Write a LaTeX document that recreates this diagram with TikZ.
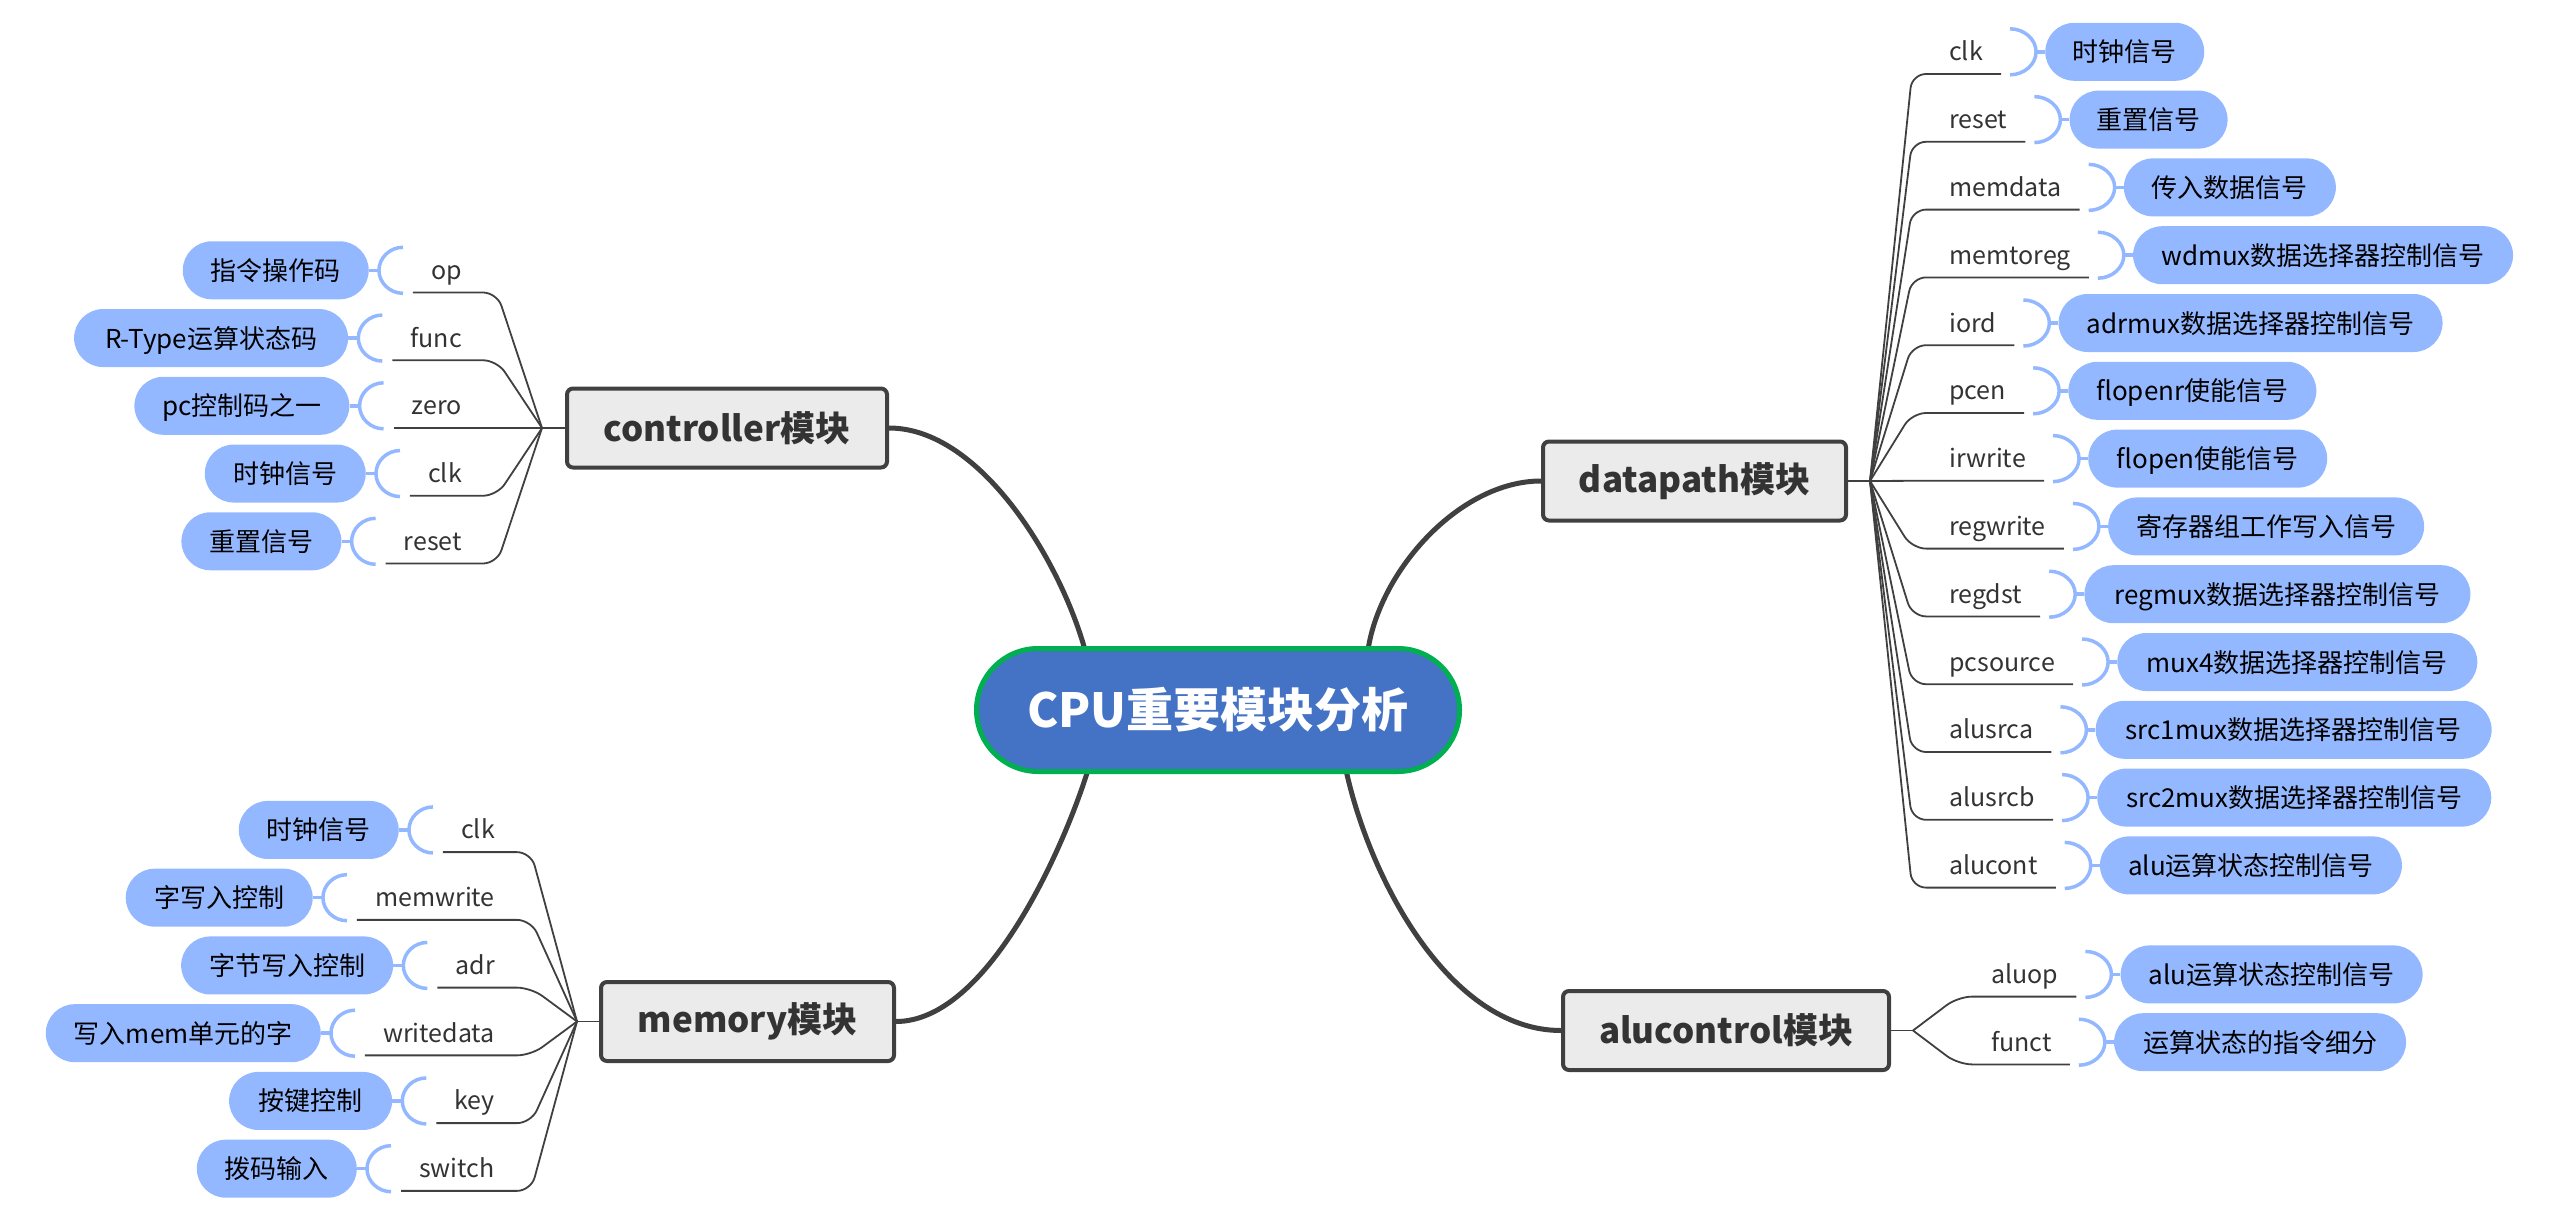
\documentclass[tikz,border=0pt]{standalone}
\usepackage{fontspec}
\setmainfont{Noto Sans CJK SC}
\usetikzlibrary{calc,backgrounds}
\definecolor{pillblue}{RGB}{148,184,255}
\definecolor{darkline}{RGB}{64,64,64}
\definecolor{boxfill}{RGB}{235,235,235}
\definecolor{cpublue}{RGB}{68,114,196}
\definecolor{cpugreen}{RGB}{0,176,80}
\definecolor{txt}{RGB}{51,51,51}
\tikzset{
  lab/.style={font=\fontsize{25}{30}\selectfont, text=txt, inner xsep=18pt, inner ysep=0pt, text height=31pt, text depth=13pt},
  pill/.style={fill=pillblue, rounded corners=29pt, minimum height=58pt, inner xsep=10pt, inner ysep=0pt, text height=23pt, text depth=3pt, font=\fontsize{26}{30}\selectfont, text=black},
  modbox/.style={draw=darkline, line width=4pt, fill=boxfill, rounded corners=6pt, minimum height=79pt, inner sep=0pt, font=\bfseries\fontsize{35}{40}\selectfont, text=txt},
  cpubox/.style={draw=cpugreen, line width=5pt, fill=cpublue, rounded corners=61.5pt, minimum width=483pt, minimum height=123pt, inner sep=0pt, font=\bfseries\fontsize{47}{56}\selectfont, text=white},
  mainline/.style={draw=darkline, line width=5pt},
  subline/.style={draw=darkline, line width=1.8pt, rounded corners=14pt},
  brk/.style={draw=pillblue, line width=3.5pt},
}
\begin{document}
\begin{tikzpicture}[x=1pt,y=-1pt]
\useasboundingbox (0,0) rectangle (2566,1220);
% central and module nodes
\node[cpubox] (cpu) at (1218,710) {CPU重要模块分析};
\node[modbox, minimum width=320pt] (ctrl) at (727,428) {controller模块};
\node[modbox, minimum width=303pt] (dp) at (1694.5,481) {datapath模块};
\node[modbox, minimum width=293pt] (mem) at (747.5,1021.5) {memory模块};
\node[modbox, minimum width=326pt] (alu) at (1726,1030.5) {alucontrol模块};
% junctions
\coordinate (cj) at (542,428);
\coordinate (dj) at (1870,481);
\coordinate (mj) at (577,1021.5);
\coordinate (aj) at (1913,1030.5);
% main connectors
\begin{scope}[on background layer]
\draw[mainline] (ctrl.east) .. controls +(91,0) and +(-25,-90) .. ($(cpu.center)+(-133,-60)$);
\draw[mainline] (mem.east) .. controls +(91,0) and +(-25,80) .. ($(cpu.center)+(-130,60)$);
\draw[mainline] ($(cpu.center)+(150,-60)$) .. controls +(12,-80) and +(-81,0) .. (dp.west);
\draw[mainline] ($(cpu.center)+(128,60)$) .. controls +(24,110) and +(-111,0) .. (alu.west);
\end{scope}
\draw[subline] (ctrl.west) -- (cj);
\draw[subline] (dp.east) -- (dj);
\draw[subline] (mem.west) -- (mj);
\draw[subline] (alu.east) -- (aj);
% controller children
\foreach \i/\lbl/\ptxt/\pw in {0/op/指令操作码/186, 1/func/R-Type运算状态码/274, 2/zero/pc控制码之一/215, 3/clk/时钟信号/161, 4/reset/重置信号/160}{
  \pgfmathsetmacro\yu{428+67.75*(\i-2)}
  \node[lab, anchor=south east] (cl\i) at (480,\yu) {\lbl};
  \node[pill, anchor=east, minimum width=\pw pt] (cp\i) at ($(cl\i.west)+(-44,0)$) {\ptxt};
  \draw[subline] (cj) -- ($(cl\i.south east)+(17,0)$) -- (cl\i.south west);
  \draw[brk] (cp\i.east) -- ++(10,0);
  \draw[brk] ($(cp\i.east)+(34,-23)$) .. controls +(-13,0) and +(0,-12.6) .. ($(cp\i.east)+(10,0)$) .. controls +(0,12.6) and +(-13,0) .. ($(cp\i.east)+(34,23)$);
}
% memory children
\foreach \i/\lbl/\ptxt/\pw in {0/clk/时钟信号/160, 1/memwrite/字写入控制/187, 2/adr/字节写入控制/212, 3/writedata/写入mem单元的字/275, 4/key/按键控制/163, 5/switch/拨码输入/160}{
  \pgfmathsetmacro\yu{1021.5+67.75*(\i-2.5)}
  \node[lab, anchor=south east] (ml\i) at (513,\yu) {\lbl};
  \node[pill, anchor=east, minimum width=\pw pt] (mp\i) at ($(ml\i.west)+(-44,0)$) {\ptxt};
  \draw[subline] (mj) -- ($(ml\i.south east)+(18,0)$) -- (ml\i.south west);
  \draw[brk] (mp\i.east) -- ++(10,0);
  \draw[brk] ($(mp\i.east)+(34,-23)$) .. controls +(-13,0) and +(0,-12.6) .. ($(mp\i.east)+(10,0)$) .. controls +(0,12.6) and +(-13,0) .. ($(mp\i.east)+(34,23)$);
}
% datapath children
\foreach \i/\lbl/\ptxt/\pw in {0/clk/时钟信号/159, 1/reset/重置信号/158, 2/memdata/传入数据信号/212, 3/memtoreg/wdmux数据选择器控制信号/380, 4/iord/adrmux数据选择器控制信号/384, 5/pcen/flopenr使能信号/248, 6/irwrite/flopen使能信号/239, 7/regwrite/寄存器组工作写入信号/316, 8/regdst/regmux数据选择器控制信号/386, 9/pcsource/mux4数据选择器控制信号/360, 10/alusrca/src1mux数据选择器控制信号/396, 11/alusrcb/src2mux数据选择器控制信号/394, 12/alucont/alu运算状态控制信号/302}{
  \pgfmathsetmacro\yu{74+67.8*\i}
  \node[lab, anchor=south west] (dl\i) at (1931,\yu) {\lbl};
  \node[pill, anchor=west, minimum width=\pw pt] (dpp\i) at ($(dl\i.east)+(44,0)$) {\ptxt};
  \draw[subline] (dj) -- ($(dl\i.south west)+(-19,0)$) -- (dl\i.south east);
  \draw[brk] (dpp\i.west) -- ++(-9,0);
  \draw[brk] ($(dpp\i.west)+(-35,-23)$) .. controls +(14,0) and +(0,-12.6) .. ($(dpp\i.west)+(-9,0)$) .. controls +(0,12.6) and +(14,0) .. ($(dpp\i.west)+(-35,23)$);
}
% alucontrol children
\foreach \i/\lbl/\ptxt/\pw in {0/aluop/alu运算状态控制信号/302, 1/funct/运算状态的指令细分/292}{
  \pgfmathsetmacro\yu{1030.5+67.8*(\i-0.5)}
  \node[lab, anchor=south west] (al\i) at (1973,\yu) {\lbl};
  \node[pill, anchor=west, minimum width=\pw pt] (ap\i) at ($(al\i.east)+(44,0)$) {\ptxt};
  \draw[subline] (aj) -- ($(al\i.south west)+(-15,0)$) -- (al\i.south east);
  \draw[brk] (ap\i.west) -- ++(-9,0);
  \draw[brk] ($(ap\i.west)+(-35,-23)$) .. controls +(14,0) and +(0,-12.6) .. ($(ap\i.west)+(-9,0)$) .. controls +(0,12.6) and +(14,0) .. ($(ap\i.west)+(-35,23)$);
}
\end{tikzpicture}
\end{document}
